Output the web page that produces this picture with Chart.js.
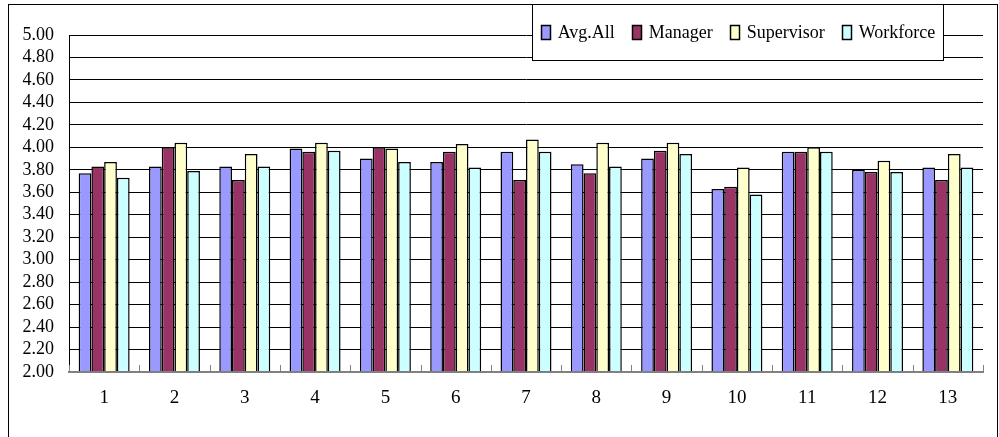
<!DOCTYPE html>
<html>
<head>
<meta charset="utf-8">
<script src="https://cdn.jsdelivr.net/npm/chart.js@4.4.1/dist/chart.umd.min.js"></script>
<style>
  html, body { margin: 0; padding: 0; background: #fff; }
  #wrap { width: 999px; height: 437px; position: relative; }
</style>
</head>
<body>
<div id="wrap"><canvas id="c"></canvas></div>
<script>
// Group labels along the x axis
const categories = ['1', '2', '3', '4', '5', '6', '7', '8', '9', '10', '11', '12', '13'];

// Mean scores per group
const avgAll     = [3.77, 3.83, 3.83, 3.99, 3.90, 3.87, 3.96, 3.85, 3.90, 3.63, 3.96, 3.80, 3.82];
const manager    = [3.83, 4.00, 3.71, 3.96, 4.00, 3.96, 3.71, 3.77, 3.97, 3.65, 3.96, 3.78, 3.71];
const supervisor = [3.87, 4.04, 3.94, 4.04, 3.99, 4.03, 4.07, 4.04, 4.04, 3.82, 4.00, 3.88, 3.94];
const workforce  = [3.73, 3.79, 3.83, 3.97, 3.87, 3.82, 3.96, 3.83, 3.94, 3.58, 3.96, 3.78, 3.82];

// Value axis range
const yMin = 2.0;
const yMax = 5.0;
const yStep = 0.2;

const FONT = "'Liberation Serif', 'Times New Roman', serif";

// Outer frame around the whole graphic
const framePlugin = {
  id: 'frame',
  afterDraw(chart) {
    const ctx = chart.ctx;
    ctx.save();
    ctx.strokeStyle = '#000';
    ctx.lineWidth = 1;
    ctx.strokeRect(8.5, 4.5, 989, 460);
    ctx.restore();
  }
};

// Short inward tick marks on the category axis at group boundaries
const innerTicksPlugin = {
  id: 'innerTicks',
  afterDatasetsDraw(chart) {
    const x = chart.scales.x;
    const ctx = chart.ctx;
    const n = chart.data.labels.length;
    const half = (x.getPixelForTick(1) - x.getPixelForTick(0)) / 2;
    ctx.save();
    ctx.strokeStyle = '#808080';
    ctx.lineWidth = 1;
    for (let i = 0; i <= n; i++) {
      const px = Math.round(x.getPixelForTick(Math.min(i, n - 1)) + (i === n ? half : -half)) + 0.5;
      ctx.beginPath();
      ctx.moveTo(px, x.top);
      ctx.lineTo(px, x.top - 7);
      ctx.stroke();
    }
    ctx.restore();
  }
};

// Boxed legend in the upper right, drawn over the plot
const boxLegendPlugin = {
  id: 'boxLegend',
  afterDraw(chart) {
    const ctx = chart.ctx;
    const box = { left: 532.5, top: 4.5, right: 943.5, bottom: 60.5 };
    ctx.save();
    ctx.fillStyle = '#fff';
    ctx.fillRect(box.left, box.top, box.right - box.left, box.bottom - box.top);
    ctx.strokeStyle = '#000';
    ctx.lineWidth = 1;
    ctx.strokeRect(box.left, box.top, box.right - box.left, box.bottom - box.top);

    ctx.font = '18px ' + FONT;
    ctx.textBaseline = 'middle';
    const sw = 9, sh = 14, gapText = 8, gapItem = 17;
    const items = chart.data.datasets.map(ds => ({
      label: ds.label, color: ds.backgroundColor, w: ctx.measureText(ds.label).width
    }));
    const total = items.reduce((s, it) => s + sw + gapText + it.w, 0) + gapItem * (items.length - 1);
    let x = (box.left + box.right) / 2 - total / 2;
    const cy = 32;
    items.forEach(it => {
      const sx = Math.round(x) + 0.5;
      ctx.fillStyle = it.color;
      ctx.fillRect(sx, Math.round(cy - sh / 2) + 0.5, sw, sh);
      ctx.lineWidth = 1.5;
      ctx.strokeStyle = '#000';
      ctx.strokeRect(sx, Math.round(cy - sh / 2) + 0.5, sw, sh);
      ctx.fillStyle = '#000';
      ctx.fillText(it.label, x + sw + gapText, cy + 1);
      x += sw + gapText + it.w + gapItem;
    });
    ctx.restore();
  }
};

const mkSet = (label, data, color) => ({
  label, data,
  backgroundColor: color,
  borderColor: '#000',
  borderWidth: 1.5,
  borderSkipped: false,
  categoryPercentage: 0.725,
  barPercentage: 1.0
});

new Chart(document.getElementById('c'), {
  type: 'bar',
  data: {
    labels: categories,
    datasets: [
      mkSet('Avg.All', avgAll, '#9999FF'),
      mkSet('Manager', manager, '#993366'),
      mkSet('Supervisor', supervisor, '#FFFFCC'),
      mkSet('Workforce', workforce, '#CCFFFF')
    ]
  },
  options: {
    responsive: true,
    maintainAspectRatio: false,
    animation: false,
    devicePixelRatio: 1,
    layout: { padding: { left: 0, top: 35, right: 16, bottom: 0 } },
    plugins: {
      legend: { display: false },
      tooltip: { enabled: false },
      title: { display: false }
    },
    scales: {
      x: {
        grid: { display: false, drawTicks: false },
        border: { display: true, color: '#808080', width: 2, z: 1 },
        ticks: {
          color: '#000',
          padding: 15,
          font: { family: FONT, size: 19 }
        },
        afterFit(scale) { scale.height = 65; }
      },
      y: {
        min: yMin,
        max: yMax,
        grid: {
          color: ctx => (ctx.tick && ctx.tick.value === yMin) ? 'rgba(0,0,0,0)' : '#000',
          lineWidth: 1,
          drawTicks: false
        },
        border: { display: true, color: '#000', width: 1 },
        ticks: {
          stepSize: yStep,
          autoSkip: false,
          color: '#000',
          padding: 15,
          font: { family: FONT, size: 18 },
          callback: v => Number(v).toFixed(2)
        },
        afterFit(scale) { scale.width = 69; }
      }
    }
  },
  plugins: [innerTicksPlugin, boxLegendPlugin, framePlugin]
});
</script>
</body>
</html>
